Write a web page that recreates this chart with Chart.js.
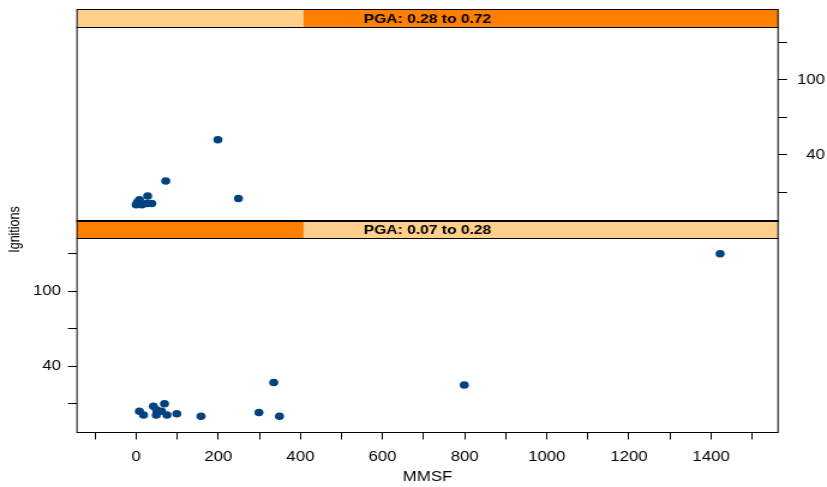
<!DOCTYPE html>
<html>
<head>
<meta charset="utf-8">
<script src="https://cdn.jsdelivr.net/npm/chart.js@4.4.1/dist/chart.umd.min.js"></script>
<style>
  html, body { margin: 0; padding: 0; background: #fff; overflow: hidden; }
  #plot { display: block; }
</style>
</head>
<body>
<canvas id="plot" width="689" height="487" style="width:827px;height:487px"></canvas>
<script>
// Ignitions against MMSF, conditioned on PGA (two shingle levels)
const pgaRange = [0.07, 0.72];
const panelLabels = ['PGA: 0.07 to 0.28', 'PGA: 0.28 to 0.72'];   // bottom, top
const panelLevels = [[0.07, 0.28], [0.28, 0.72]];

const lowPgaMmsf = [8, 18, 42, 50, 49, 62, 69, 75, 99, 158, 299, 335, 349, 799, 1422];
const lowPgaIgnitions = [4, 1, 8, 5, 1, 4, 10, 1, 2, 0, 3, 27, 0, 25, 130];

const highPgaMmsf = [0, 3, 8, 14, 26, 38, 28, 72, 199, 249];
const highPgaIgnitions = [0, 2, 4, 0, 1, 1, 7, 19, 52, 5];

const xTicks = [-100, 0, 100, 200, 300, 400, 500, 600, 700, 800, 900, 1000, 1100, 1200, 1300, 1400, 1500];
const xTickLabels = [0, 200, 400, 600, 800, 1000, 1200, 1400];
const yTicks = [10, 40, 70, 100, 130];
const yTickLabels = [40, 100];

const xLimits = [-144, 1563];
const yLimits = [-12.6, 142.2];

// layout of the two stacked panels (canvas units)
const PLOT_TOP = 27, PLOT_BOTTOM = 432, STRIP_H = 18;
const LEFT_W = 64.15, RIGHT_W = 39.2, RIGHT_PAD = 1.6, X_AXIS_H = 55;

const FONT = '"Liberation Sans", Arial, Helvetica, sans-serif';
const POINT_COLOR = '#00437F';
const SHADE = '#FF7F00', STRIP_BG = '#FFD08C';

const areaH = PLOT_BOTTOM - PLOT_TOP;
const panelH = (areaH - STRIP_H) / 2;
const pxPerUnit = panelH / (yLimits[1] - yLimits[0]);
const fullSpan = areaH / pxPerUnit;

const toPoints = (xs, ys) => xs.map((x, i) => ({ x: x, y: ys[i] }));
const setTicks = vals => scale => { scale.ticks = vals.map(v => ({ value: v })); };

const tickGrid = { drawOnChartArea: false, drawTicks: true, tickLength: 7.5, color: '#000', lineWidth: 1 };

const panelPlugin = {
  id: 'panels',
  afterDraw(chart) {
    const ctx = chart.ctx, ca = chart.chartArea;
    const panels = [
      { scale: chart.scales.yBot, level: panelLevels[0], label: panelLabels[0] },
      { scale: chart.scales.yTop, level: panelLevels[1], label: panelLabels[1] }
    ];
    const w = ca.right - ca.left;
    ctx.save();
    panels.forEach(p => {
      const top = Math.round(p.scale.getPixelForValue(yLimits[1])) + 0.5;
      const bottom = Math.round(p.scale.getPixelForValue(yLimits[0])) + 0.5;
      const sTop = top - STRIP_H;
      // strip background and shaded level range
      ctx.fillStyle = STRIP_BG;
      ctx.fillRect(ca.left, sTop, w, STRIP_H);
      const f0 = (p.level[0] - pgaRange[0]) / (pgaRange[1] - pgaRange[0]);
      const f1 = (p.level[1] - pgaRange[0]) / (pgaRange[1] - pgaRange[0]);
      ctx.fillStyle = SHADE;
      ctx.fillRect(ca.left + f0 * w, sTop, (f1 - f0) * w, STRIP_H);
      ctx.strokeStyle = '#000';
      ctx.lineWidth = 1;
      ctx.strokeRect(ca.left, sTop, w, STRIP_H);
      ctx.strokeRect(ca.left, top, w, bottom - top);
      ctx.fillStyle = '#000';
      ctx.font = 'bold 13px ' + FONT;
      ctx.textAlign = 'center';
      ctx.textBaseline = 'middle';
      ctx.fillText(p.label, ca.left + w / 2, sTop + STRIP_H / 2 + 0.5);
    });
    ctx.restore();
  }
};

new Chart(document.getElementById('plot'), {
  type: 'scatter',
  data: {
    datasets: [
      { data: toPoints(lowPgaMmsf, lowPgaIgnitions), yAxisID: 'yBot' },
      { data: toPoints(highPgaMmsf, highPgaIgnitions), yAxisID: 'yTop' }
    ]
  },
  options: {
    responsive: false,
    animation: false,
    devicePixelRatio: 1,
    layout: { padding: { top: PLOT_TOP, right: RIGHT_PAD, left: 0, bottom: 0 } },
    elements: {
      point: { radius: 3.8, hoverRadius: 3.8, backgroundColor: POINT_COLOR, borderWidth: 0, pointStyle: 'circle' }
    },
    plugins: { legend: { display: false }, tooltip: { enabled: false } },
    scales: {
      x: {
        type: 'linear', position: 'bottom', min: xLimits[0], max: xLimits[1],
        afterBuildTicks: setTicks(xTicks),
        afterFit: s => { s.height = X_AXIS_H; },
        grid: tickGrid, border: { display: false },
        ticks: {
          autoSkip: false, maxRotation: 0, padding: 9, color: '#000',
          font: { family: FONT, size: 14 },
          callback: v => xTickLabels.includes(v) ? String(v) : ''
        },
        title: { display: true, text: 'MMSF', color: '#000', font: { family: FONT, size: 14 }, padding: { top: 0, bottom: 1.5 } }
      },
      yBot: {
        type: 'linear', position: 'left', min: yLimits[0], max: yLimits[0] + fullSpan,
        afterBuildTicks: setTicks(yTicks),
        afterFit: s => { s.width = LEFT_W; },
        grid: tickGrid, border: { display: false },
        ticks: {
          autoSkip: false, padding: 5.8, color: '#000', crossAlign: 'near',
          font: { family: FONT, size: 14 },
          callback: v => yTickLabels.includes(v) ? String(v) : ''
        },
        title: { display: true, text: 'Ignitions', color: '#000', font: { family: FONT, size: 12.5 }, padding: { top: 5, bottom: 0 } }
      },
      yTop: {
        type: 'linear', position: 'right', min: yLimits[1] - fullSpan, max: yLimits[1],
        afterBuildTicks: setTicks(yTicks),
        afterFit: s => { s.width = RIGHT_W; },
        grid: tickGrid, border: { display: false },
        ticks: {
          autoSkip: false, padding: 8, color: '#000', crossAlign: 'far',
          font: { family: FONT, size: 14 },
          callback: v => yTickLabels.includes(v) ? String(v) : ''
        }
      }
    }
  },
  plugins: [panelPlugin]
});
</script>
</body>
</html>
